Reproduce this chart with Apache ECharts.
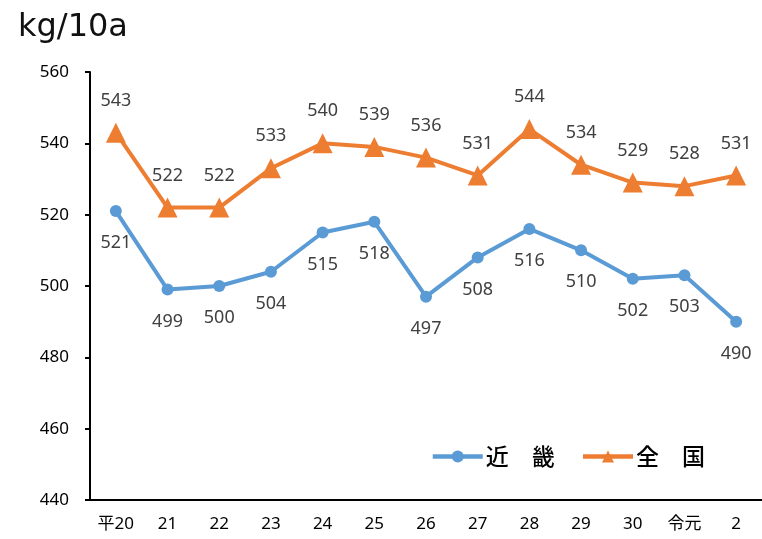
<!DOCTYPE html>
<html>
<head>
<meta charset="utf-8">
<script src="https://cdn.jsdelivr.net/npm/echarts@6/dist/echarts.min.js"></script>
<style>
  html, body { margin: 0; padding: 0; background: #fff; }
  #main { width: 762px; height: 539px; }
</style>
</head>
<body>
<div id="main"></div>
<script>
// 年次
let years = ['平20', '21', '22', '23', '24', '25', '26', '27', '28', '29', '30', '令元', '2'];
// 10a当たり収量
let kinki = [521, 499, 500, 504, 515, 518, 497, 508, 516, 510, 502, 503, 490];
let zenkoku = [543, 522, 522, 533, 540, 539, 536, 531, 544, 534, 529, 528, 531];
let yTicks = [440, 460, 480, 500, 520, 540, 560];

let font = '"Noto Sans", "Noto Sans CJK JP", sans-serif';
let myChart = echarts.init(document.getElementById('main'));

let option = {
    animation: false,
    textStyle: { fontFamily: font },
    title: {
        text: 'kg/10a',
        left: 13,
        top: 7,
        textStyle: { fontSize: 32, fontWeight: 'normal', color: '#111', fontFamily: '"DejaVu Sans", sans-serif' }
    },
    legend: {
        right: 52,
        top: 440,
        itemWidth: 50,
        itemHeight: 15,
        itemGap: 26,
        lineStyle: { width: 4.5 },
        formatter: function (name) { return name.split('').join('　'); },
        textStyle: { fontSize: 23, color: '#000', fontWeight: 500, fontFamily: '"Noto Sans CJK JP", sans-serif', padding: [0, 0, 0, -2] }
    },
    grid: { left: 90, right: -8, top: 72, bottom: 39 },
    xAxis: {
        type: 'category',
        data: years,
        axisLine: { lineStyle: { color: '#000', width: 2 } },
        axisTick: { show: false },
        axisLabel: { color: '#000', fontSize: 17, margin: 16, fontFamily: font }
    },
    yAxis: {
        type: 'value',
        min: yTicks[0],
        max: yTicks[yTicks.length - 1],
        interval: 20,
        axisLine: { show: true, lineStyle: { color: '#000', width: 2 } },
        axisTick: { show: true, inside: false, length: 5, lineStyle: { color: '#000', width: 2 } },
        splitLine: { show: false },
        axisLabel: { color: '#000', fontSize: 17, margin: 21 }
    },
    series: [{
        name: '近畿',
        type: 'line',
        data: kinki,
        symbol: 'circle',
        symbolSize: 12,
        itemStyle: { color: '#5B9BD5' },
        lineStyle: { width: 4, color: '#5B9BD5' },
        label: { show: true, position: 'bottom', distance: 17, fontSize: 18, color: '#404040' }
    }, {
        name: '全国',
        type: 'line',
        data: zenkoku,
        symbol: 'triangle',
        symbolSize: 20,
        itemStyle: { color: '#ED7D31' },
        lineStyle: { width: 4, color: '#ED7D31' },
        label: { show: true, position: 'top', distance: 13, fontSize: 18, color: '#404040' }
    }]
};

myChart.setOption(option);
</script>
</body>
</html>
